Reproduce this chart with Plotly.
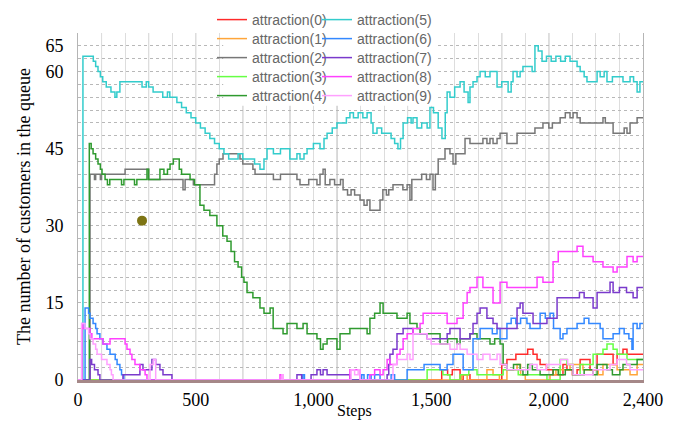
import plotly.graph_objects as go

# ---------------- data (step, value) change points ----------------
names = [f"attraction({i})" for i in range(10)]
colors = ["#ff2a2a", "#ffa53a", "#777777", "#66ff44", "#2f9a2f",
          "#33cccc", "#3388ff", "#7a3acc", "#ff40ff", "#ffa0ff"]

s0_x = [0, 1530, 1545, 1570, 1590, 1623, 1636, 1665, 1790, 1800, 1822, 1848, 1860, 1890, 1910, 1933, 1950, 1963,
        1990, 2018, 2048, 2060, 2077, 2100, 2120, 2133, 2162, 2175, 2205, 2247, 2260, 2273, 2290, 2315, 2332, 2387, 2400]
s0_y = [0, 0, 2, 1, 2, 0, 1, 0, 0, 3, 4, 4, 5, 5, 6, 5, 4, 3,
        2, 1, 1, 3, 2, 1, 2, 4, 4, 2, 5, 5, 5, 3, 5, 6, 5, 5, 5]

s1_x = [0, 1620, 1630, 1653, 1737, 1763, 1790, 1822, 1865, 1880, 1900, 1990, 2005, 2030, 2048, 2090, 2133, 2145,
        2188, 2210, 2230, 2273, 2290, 2332, 2345, 2375, 2400]
s1_y = [0, 0, 1, 0, 2, 1, 0, 2, 3, 1, 0, 0, 1, 2, 2, 3, 3, 2,
        2, 1, 3, 3, 2, 2, 1, 3, 3]

s2_x = [0, 51, 70, 75, 90, 95, 100, 191, 200, 297, 300, 404, 430, 446, 455, 463, 490, 506, 574, 580, 590, 600, 616,
        633, 650, 688, 700, 743, 752, 773, 800, 830, 860, 913, 930, 943, 980, 1015, 1028, 1041, 1050, 1070, 1090,
        1100, 1115, 1126, 1145, 1160, 1175, 1198, 1215, 1228, 1240, 1270, 1283, 1295, 1310, 1320, 1338, 1360, 1380,
        1398, 1410, 1418, 1440, 1460, 1480, 1495, 1508, 1518, 1530, 1550, 1559, 1580, 1593, 1605, 1636, 1644, 1665,
        1700, 1720, 1737, 1750, 1763, 1780, 1793, 1806, 1822, 1848, 1865, 1900, 1933, 1941, 1971, 1975, 2000, 2015,
        2035, 2048, 2070, 2090, 2103, 2120, 2133, 2162, 2200, 2230, 2240, 2260, 2273, 2300, 2320, 2332, 2345, 2375, 2400]
s2_y = [0, 40, 39, 40, 40, 39, 40, 40, 41, 41, 39, 39, 39, 37, 39, 39, 38, 38, 38, 40, 42, 43, 44,
        44, 44, 43, 42, 41, 40, 40, 40, 39, 40, 40, 39, 38, 39, 38, 40, 41, 38, 39, 38,
        38, 39, 37, 36, 37, 36, 35, 34, 35, 33, 33, 35, 37, 36, 37, 38, 38, 37,
        38, 35, 39, 39, 40, 39, 40, 37, 40, 43, 43, 45, 44, 42, 44, 44, 47, 46,
        46, 47, 46, 47, 46, 47, 48, 48, 46, 46, 48, 48, 48, 49, 49, 50, 49, 50,
        50, 51, 52, 51, 52, 51, 50, 50, 50, 51, 50, 50, 48, 48, 49, 48, 50, 51, 51]

s3_x = [0, 1470, 1483, 1538, 1550, 1580, 1623, 1660, 1695, 1793, 1806, 1848, 1870, 1963, 1992, 2048, 2077, 2103,
        2133, 2175, 2188, 2230, 2247, 2273, 2290, 2315, 2332, 2387, 2400]
s3_y = [0, 0, 2, 2, 1, 0, 1, 2, 1, 1, 2, 2, 1, 1, 0, 4, 3, 1,
        3, 3, 5, 6, 7, 6, 5, 5, 4, 4, 4]

s4_x = [0, 48, 56, 64, 75, 85, 95, 102, 115, 125, 135, 175, 185, 195, 230, 240, 250, 293, 300, 348, 365, 380, 391,
        405, 420, 430, 440, 463, 476, 495, 506, 518, 535, 548, 560, 574, 590, 603, 615, 633, 650, 665, 680, 695, 705,
        718, 743, 773, 790, 816, 829, 858, 871, 888, 913, 930, 943, 956, 973, 998, 1015, 1030, 1041, 1058, 1083, 1100,
        1113, 1143, 1155, 1198, 1228, 1240, 1260, 1283, 1296, 1338, 1355, 1381, 1398, 1410, 1440, 1453, 1500, 1525,
        1538, 1570, 1610, 1623, 1653, 1665, 1678, 1695, 1737, 1750, 1770, 1793, 1806, 1822, 1850, 1878, 1890, 1910,
        1930, 1963, 2005, 2018, 2040, 2070, 2103, 2150, 2188, 2205, 2247, 2270, 2302, 2315, 2358, 2375, 2400]
s4_y = [0, 46, 45, 44, 43, 42, 41, 40, 39, 38, 39, 39, 38, 39, 39, 38, 39, 41, 39, 41, 40, 41, 42,
        43, 43, 41, 40, 40, 39, 38, 38, 34, 33, 33, 32, 32, 30, 30, 28, 27, 25, 23, 22, 20, 19,
        17, 16, 14, 13, 14, 10, 10, 9, 11, 11, 10, 10, 11, 9, 9, 8, 6, 7, 8, 8, 6,
        9, 9, 10, 10, 9, 12, 13, 15, 13, 13, 12, 12, 13, 11, 10, 9, 9, 9,
        7, 8, 7, 8, 8, 9, 9, 8, 8, 7, 8, 7, 3, 2, 3, 2, 1, 3,
        2, 1, 1, 2, 1, 2, 1, 2, 1, 3, 2, 1, 2, 3, 3, 4, 4]

s5_x = [0, 21, 55, 65, 75, 85, 95, 105, 120, 140, 157, 165, 178, 263, 272, 290, 300, 319, 360, 380, 390, 420,
        440, 460, 480, 500, 520, 540, 560, 580, 600, 620, 640, 680, 700, 750, 773, 790, 803, 830, 860, 900, 930, 943,
        960, 973, 1000, 1028, 1045, 1058, 1080, 1100, 1140, 1155, 1170, 1190, 1210, 1228, 1245, 1253, 1270, 1290,
        1330, 1345, 1359, 1370, 1381, 1400, 1415, 1423, 1440, 1460, 1483, 1495, 1510, 1530, 1546, 1560, 1568, 1580,
        1600, 1623, 1640, 1657, 1665, 1678, 1695, 1708, 1730, 1750, 1780, 1800, 1827, 1840, 1848, 1865, 1878, 1890,
        1929, 1941, 1955, 1971, 1990, 2010, 2030, 2050, 2070, 2090, 2120, 2133, 2150, 2162, 2205, 2218, 2235, 2247,
        2270, 2315, 2345, 2360, 2375, 2387, 2400]
s5_y = [0, 63, 63, 62, 61, 60, 59, 58, 57, 56, 55, 56, 58, 58, 57, 58, 57, 56, 55, 56, 55, 54,
        53, 52, 51, 50, 49, 48, 47, 46, 45, 44, 43, 44, 43, 42, 41, 43, 45, 44, 45, 43, 44, 43,
        44, 45, 46, 45, 47, 48, 49, 50, 51, 52, 51, 52, 51, 52, 50, 48, 49, 48,
        47, 46, 45, 47, 50, 51, 50, 51, 49, 50, 49, 53, 52, 49, 47, 52, 56, 55,
        57, 58, 56, 54, 57, 58, 59, 60, 59, 60, 57, 58, 56, 58, 60, 59, 60, 61,
        60, 65, 64, 62, 63, 62, 63, 62, 63, 62, 61, 60, 59, 58, 60, 59, 60, 58,
        59, 58, 59, 58, 56, 58, 58]

s6_x = [0, 30, 45, 51, 64, 75, 81, 93, 106, 123, 136, 158, 166, 178, 185, 195, 950, 955, 962, 1198, 1205, 1215,
        1230, 1245, 1260, 1283, 1330, 1345, 1398, 1470, 1520, 1538, 1568, 1593, 1623, 1636, 1665, 1678, 1708, 1737,
        1760, 1780, 1793, 1822, 1840, 1860, 1880, 1907, 1920, 1963, 1985, 2005, 2020, 2048, 2060, 2077, 2120, 2150,
        2170, 2218, 2230, 2273, 2300, 2320, 2340, 2353, 2358, 2375, 2387, 2400]
s6_y = [0, 14, 13, 12, 11, 10, 9, 8, 7, 6, 5, 4, 3, 2, 1, 0, 0, 1, 0, 0, 1, 0,
        1, 0, 1, 0, 1, 0, 2, 3, 3, 2, 3, 5, 5, 2, 2, 8, 10, 10,
        9, 10, 8, 11, 12, 11, 12, 11, 10, 13, 12, 13, 10, 8, 9, 10, 11, 12,
        11, 10, 8, 9, 10, 9, 8, 6, 11, 10, 11, 11]

s7_x = [0, 51, 58, 70, 85, 93, 191, 263, 276, 314, 330, 348, 361, 399, 920, 930, 950, 990, 1015, 1030, 1041, 1058,
        1143, 1155, 1300, 1313, 1320, 1325, 1338, 1355, 1381, 1423, 1483, 1568, 1580, 1623, 1665, 1678, 1695, 1708,
        1737, 1763, 1780, 1822, 1865, 1878, 1890, 1933, 1992, 2035, 2130, 2150, 2188, 2205, 2260, 2273, 2300, 2330,
        2358, 2375, 2400]
s7_y = [0, 4, 3, 2, 1, 0, 1, 3, 2, 4, 3, 2, 1, 0, 0, 1, 0, 1, 2, 1, 2, 1,
        1, 0, 0, 1, 3, 5, 6, 9, 10, 9, 8, 9, 10, 8, 9, 11, 13, 14,
        12, 11, 10, 10, 14, 15, 13, 11, 12, 16, 17, 16, 14, 17, 19, 17, 18, 17,
        16, 18, 18]

s8_x = [0, 17, 21, 51, 59, 106, 136, 191, 200, 208, 221, 229, 242, 263, 285, 293, 850, 858, 866, 1155, 1185, 1198,
        1240, 1260, 1283, 1296, 1313, 1325, 1355, 1368, 1381, 1398, 1423, 1453, 1466, 1550, 1568, 1610, 1636, 1653,
        1665, 1695, 1720, 1763, 1793, 1822, 1950, 1975, 2018, 2040, 2120, 2145, 2188, 2230, 2273, 2290, 2332, 2358,
        2375, 2400]
s8_y = [0, 11, 10, 9, 8, 7, 8, 8, 7, 6, 5, 4, 3, 2, 1, 0, 0, 1, 0, 2, 2, 0,
        1, 2, 1, 2, 4, 3, 5, 6, 8, 9, 10, 11, 13, 13, 11, 12, 15, 17,
        18, 20, 18, 15, 19, 18, 20, 19, 23, 25, 26, 24, 23, 22, 21, 22, 24, 23,
        24, 24]

s9_x = [0, 15, 30, 45, 51, 64, 75, 81, 100, 123, 136, 142, 149, 300, 306, 320, 330, 860, 866, 872, 1150, 1160,
        1175, 1190, 1198, 1320, 1338, 1355, 1398, 1410, 1423, 1483, 1500, 1538, 1580, 1610, 1623, 1653, 1695, 1720,
        1750, 1780, 1793, 1822, 1920, 1950, 1990, 2050, 2080, 2103, 2188, 2260, 2290, 2330, 2345, 2400]
s9_y = [0, 11, 10, 9, 8, 7, 6, 5, 4, 3, 2, 1, 0, 0, 3, 4, 0, 0, 1, 0, 0, 2,
        1, 2, 0, 0, 3, 4, 5, 4, 9, 8, 7, 7, 6, 7, 6, 5, 4, 5,
        4, 5, 3, 2, 3, 2, 3, 4, 3, 1, 2, 3, 4, 3, 2, 2]

series_x = [s0_x, s1_x, s2_x, s3_x, s4_x, s5_x, s6_x, s7_x, s8_x, s9_x]
series_y = [s0_y, s1_y, s2_y, s3_y, s4_y, s5_y, s6_y, s7_y, s8_y, s9_y]

dot_x = [272]
dot_y = [31]

x_tick_vals = [0, 500, 1000, 1500, 2000, 2400]
x_tick_text = ["0", "500", "1,000", "1,500", "2,000", "2,400"]
y_tick_vals = [0, 15, 30, 45, 60, 65]
dark_vlines = [100, 300, 500, 700, 900, 1100, 1400, 1800, 2000]

# ---------------- figure ----------------
PLOT_L, PLOT_T, PLOT_H, PLOT_W = 78, 33, 347, 565
legend_rows_px = [20, 39, 58, 77, 96]      # row centres (px from top)
legend_cols_px = [212, 317]                # column left edges (px)

fig = go.Figure()
for i in range(10):
    lg = "legend" if i == 0 else f"legend{i + 1}"
    fig.add_trace(go.Scatter(
        x=series_x[i], y=series_y[i], mode="lines", name=names[i],
        line=dict(color=colors[i], width=1.5, shape="hv"), legend=lg))

fig.add_trace(go.Scatter(x=dot_x, y=dot_y, mode="markers", showlegend=False,
                         marker=dict(color="#7d7414", size=10)))

shapes = [dict(type="line", xref="x", yref="paper", x0=v, x1=v, y0=0, y1=1,
               line=dict(color="#a8a8a8", width=1), layer="below") for v in dark_vlines]
# white panel behind the legend (hides grid)
shapes.append(dict(type="rect", xref="paper", yref="paper", x0=0.257, x1=0.635, y0=0.79, y1=1.0,
                   fillcolor="white", line=dict(width=0), layer="above"))

serif = "Liberation Serif, Times New Roman, serif"
legend_font = dict(family="Liberation Sans, Arial, sans-serif", size=14, color="#666666")

layout_legends = {}
for i in range(10):
    key = "legend" if i == 0 else f"legend{i + 1}"
    col, row = divmod(i, 5)
    layout_legends[key] = dict(
        x=(legend_cols_px[col] - PLOT_L) / PLOT_W, xanchor="left",
        y=(PLOT_T + PLOT_H - legend_rows_px[row]) / PLOT_H, yanchor="middle",
        bgcolor="rgba(0,0,0,0)", font=legend_font, itemwidth=30)

fig.update_layout(
    width=678, height=421,
    margin=dict(l=PLOT_L, r=35, t=PLOT_T, b=41, autoexpand=False),
    paper_bgcolor="white", plot_bgcolor="white",
    shapes=shapes,
    font=dict(family=serif, color="black"),
    annotations=[dict(text="Steps", xref="paper", yref="paper",
                      x=(354 - PLOT_L) / PLOT_W, y=-(411 - PLOT_T - PLOT_H) / PLOT_H,
                      xanchor="center", yanchor="middle", showarrow=False,
                      font=dict(family=serif, size=16, color="black"))],
    xaxis=dict(range=[0, 2400], tickvals=x_tick_vals, ticktext=x_tick_text, automargin=False,
               tickfont=dict(family=serif, size=18, color="black"),
               showgrid=False, zeroline=False,
               minor=dict(dtick=100, tick0=0, showgrid=True, gridcolor="#dddddd", gridwidth=1),
               showline=True, linecolor="#a58888", linewidth=2.5,
               ticks="outside", ticklen=2, tickcolor="white"),
    yaxis=dict(range=[0, 67.5], tickvals=y_tick_vals, automargin=False,
               tickfont=dict(family=serif, size=18, color="black"),
               showgrid=True, gridcolor="#b8b8b8", griddash="dot", gridwidth=1,
               minor=dict(dtick=2.5, tick0=0, showgrid=True, gridcolor="#b8b8b8", griddash="dot"),
               zeroline=False, showline=True, linecolor="#b5b5b5", linewidth=1, mirror=True,
               ticks="outside", ticklen=10, tickcolor="white",
               title=dict(text="The number of customers in the queue",
                          font=dict(family=serif, size=18), standoff=10)),
    **layout_legends,
)

fig.write_html("out.html")
